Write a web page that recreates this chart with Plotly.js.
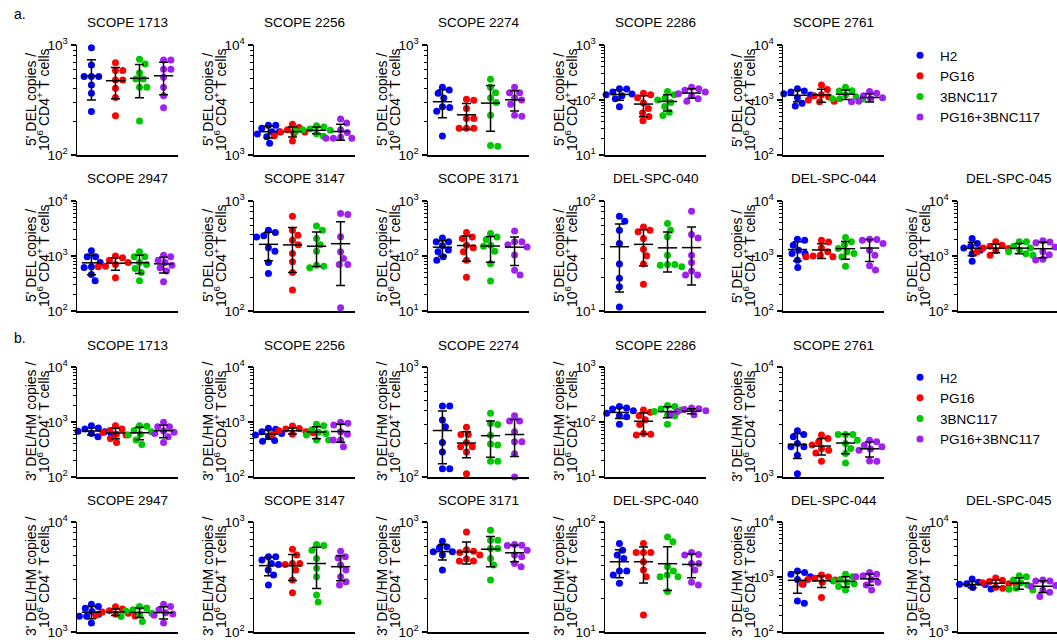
<!DOCTYPE html>
<html><head><meta charset="utf-8">
<script src="https://cdn.plot.ly/plotly-3.0.1.min.js"></script>
<style>html,body{margin:0;padding:0;background:#fff;} #chart{width:1057px;height:642px;}</style>
</head><body><div id="chart"></div>
<script>
const groupNames = ['H2', 'PG16', '3BNC117', 'PG16+3BNC117'];
const groupColors = ['#0000ff', '#ff0000', '#00c800', '#a020f0'];

const titlesRow1 = ['SCOPE 1713', 'SCOPE 2256', 'SCOPE 2274', 'SCOPE 2286', 'SCOPE 2761'];
const titlesRow2 = ['SCOPE 2947', 'SCOPE 3147', 'SCOPE 3171', 'DEL-SPC-040', 'DEL-SPC-044', 'DEL-SPC-045'];

const yTitleA = "5' DEL copies /";
const yTitleB = "3' DEL/HM copies /";
const yTitle2 = '10<sup>6</sup> CD4<sup>+</sup> T cells';

// log10 axis ranges (decade exponents) per panel
const decadesA = [[2,3],[3,4],[2,3],[1,3],[2,4],[2,4],[2,3],[1,3],[1,2],[2,4],[2,4]];
const decadesB = [[2,4],[2,4],[2,3],[1,3],[3,4],[3,4],[2,3],[2,3],[1,2],[2,4],[3,4]];

// ---- a. 5' DEL copies / 10^6 CD4+ T cells ----  (groups: H2, PG16, 3BNC117, PG16+3BNC117)
const a_SCOPE_1713 = [[946,658,516,516,516,433,364,248],[690,585,585,481,481,404,334,228],[741,672,560,491,491,412,412,204],[731,731,601,601,508,412,346,269]];
const a_SCOPE_2256 = [[1862,1862,1750,1630,1630,1550,1468,1276],[1900,1780,1700,1620,1620,1580,1500,1340],[1840,1800,1720,1700,1680,1640,1560,1480],[2120,1950,1700,1600,1450,1420,1420,1420]];
const a_SCOPE_2274 = [[412,390,364,330,275,270,250,149],[321,315,265,215,215,175,175,175],[487,412,369,330,300,230,122,120],[412,369,369,330,316,290,230,225]];
const a_SCOPE_2286 = [[160,158,140,128,125,120,105,75],[132,125,110,88,70,58,50,42],[142,125,107,100,90,76,60,52],[170,160,150,140,130,120,105,95]];
const a_SCOPE_2761 = [[1600,1450,1400,1300,1233,1100,870,780],[1875,1560,1250,1200,1150,1000,950,930],[1700,1480,1450,1250,1150,1050,1050,1040],[1420,1320,1200,1100,1050,950,930,900]];
const a_SCOPE_2947 = [[1240,966,966,760,636,620,462,355],[1000,927,840,760,700,650,636,402],[1190,966,966,760,700,594,502,355],[1035,966,840,760,682,610,531,340]];
const a_SCOPE_3147 = [[542,516,482,470,375,350,276,219],[726,542,489,440,400,334,280,224,155],[593,542,456,400,350,261,255,247],[768,752,472,345,300,265,265,107]];
const a_SCOPE_3171 = [[213,181,181,153,128,120,97,84],[267,222,208,157,141,119,84,41],[256,222,200,157,150,122,72,35],[286,181,181,160,146,104,55,45]];
const a_DEL_SPC_040 = [[72.6,65.4,54.2,41,26.7,19.8,16.6,10.9],[58.1,54.2,52.4,45.6,36.5,31.8,26.7,17.5],[62.3,54.2,47.2,32.2,26.5,26.5,26.0,25.2],[80.5,49.5,46.2,32.2,27.6,23.1,21.2,21.2]];
const a_DEL_SPC_044 = [[2018,1936,1572,1276,1110,1110,840,619],[1936,1800,1400,1200,1035,1000,966,966],[2165,1807,1600,1368,1200,1110,966,654],[2018,1990,1936,1686,1276,1035,663,555]];
const a_DEL_SPC_045 = [[2077,1686,1500,1400,1276,1276,1100,805],[1807,1572,1500,1400,1368,1250,1191,1035],[1807,1807,1500,1400,1276,1200,1100,1035],[1900,1800,1750,1450,1200,1050,870,850]];

// ---- b. 3' DEL/HM copies / 10^6 CD4+ T cells ----
const b_SCOPE_1713 = [[857,780,745,680,666,620,595,540],[857,745,700,647,600,579,502,425],[857,840,700,666,600,579,469,390],[986,822,822,685,650,621,540,425]];
const b_SCOPE_2256 = [[766,740,666,620,579,540,460,449],[845,760,745,690,666,640,600,595],[906,857,720,650,621,580,469,469],[986,946,881,666,600,469,469,354]];
const b_SCOPE_2274 = [[443,443,330,287,206,169,119,119],[283,244,244,206,188,188,169,107],[380,307,300,240,200,195,139,139],[361,323,323,258,209,209,163,100]];
const b_SCOPE_2286 = [[191,180,173,160,144,130,125,91],[166,150,130,110,90,62,60,58],[199,191,173,165,155,134,130,91],[180,175,168,160,155,145,140,135]];
const b_SCOPE_2761 = [[2636,2438,2323,2018,1880,1880,1578,1072],[2405,2243,2089,1950,1816,1754,1650,1390],[2438,2438,2438,2163,2018,1816,1634,1343],[2163,2089,1948,1880,1800,1754,1400,1390]];
const b_SCOPE_2947 = [[1791,1706,1648,1538,1450,1387,1387,1206],[1700,1620,1560,1520,1480,1450,1420,1400],[1706,1650,1592,1550,1480,1436,1380,1248],[1791,1706,1592,1500,1456,1420,1339,1206]];
const b_SCOPE_3147 = [[483,483,451,420,410,366,330,268],[566,500,420,420,410,366,297,228],[624,610,554,466,379,318,217,187],[543,483,470,406,366,318,287,268]];
const b_SCOPE_3171 = [[669,594,582,536,536,520,500,366],[812,560,543,528,500,460,441,441],[841,682,682,574,574,466,406,297],[624,615,610,554,500,483,420,392]];
const b_DEL_SPC_040 = [[63.7,55.5,50,46.6,35.8,35.8,33,27.7],[63.7,52.8,52.8,52.8,43.5,36.6,31.8,14.3],[73.2,66,39.2,35.8,33,31.8,31.8,23.3],[52.8,50.7,50,42,42,36.6,28.3,26.8]];
const b_DEL_SPC_044 = [[1283,1213,1117,1014,900,737,368,334],[1087,1000,946,900,883,802,750,424],[1117,1014,900,850,802,750,669,582],[1213,1117,1050,1014,900,802,717,582]];
const b_DEL_SPC_045 = [[3034,2831,2750,2716,2700,2600,2535,2466],[3100,2950,2880,2800,2750,2700,2550,2500],[3251,3184,2972,2800,2679,2500,2450,2413],[2972,2911,2911,2650,2588,2413,2298,2101]];

const dataA = [a_SCOPE_1713,a_SCOPE_2256,a_SCOPE_2274,a_SCOPE_2286,a_SCOPE_2761,a_SCOPE_2947,a_SCOPE_3147,a_SCOPE_3171,a_DEL_SPC_040,a_DEL_SPC_044,a_DEL_SPC_045];
const dataB = [b_SCOPE_1713,b_SCOPE_2256,b_SCOPE_2274,b_SCOPE_2286,b_SCOPE_2761,b_SCOPE_2947,b_SCOPE_3147,b_SCOPE_3171,b_DEL_SPC_040,b_DEL_SPC_044,b_DEL_SPC_045];

// ---------- layout geometry (px) ----------
const W = 1057, H = 642;
const colX = [77, 254, 428, 605, 783, 958];
const panelW = 101, panelH = 110;
const rowTop = [45, 201, 367, 522];
const xRange = [-0.6, 3.6];
const FONT = 'Arial, "Liberation Sans", Helvetica, sans-serif';
const dotSize = 7;

function mean(a){ return a.reduce((s,v)=>s+v,0)/a.length; }
function sd(a){ const m = mean(a); return Math.sqrt(a.reduce((s,v)=>s+(v-m)*(v-m),0)/(a.length-1)); }

// deterministic beeswarm (pixel space) -> offsets in x data units
function swarm(vals, pxPerDec, pxPerUnit, d){
  const idx = vals.map((v,i)=>i).sort((a,b)=>vals[b]-vals[a]);
  const placed = []; const off = new Array(vals.length).fill(0);
  for (const i of idx){
    const y = Math.log10(vals[i])*pxPerDec;
    const cands = [0];
    for (const p of placed){
      const dy = Math.abs(p.y-y);
      if (dy < d){ const dx = Math.sqrt(d*d-dy*dy); cands.push(p.x+dx, p.x-dx); }
    }
    cands.sort((a,b)=>Math.abs(a)-Math.abs(b) || b-a);
    let chosen = 0;
    for (const c of cands){
      if (placed.every(p => (p.x-c)*(p.x-c)+(p.y-y)*(p.y-y) >= d*d-1e-6)){ chosen = c; break; }
    }
    placed.push({x:chosen,y:y}); off[i] = chosen/pxPerUnit;
  }
  return off;
}

const traces = [];
const legendFont = {size:13.5, family:FONT, color:'#000'};
const layout = {
  width: W, height: H, margin:{l:0,r:0,t:0,b:0}, paper_bgcolor:'#fff', plot_bgcolor:'rgba(0,0,0,0)',
  font:{family:FONT, color:'#000'}, showlegend:true, annotations:[],
  legend:{x:900/W, xanchor:'left', y:1-40/H, yanchor:'top', font:legendFont, bgcolor:'rgba(0,0,0,0)', itemclick:false, itemdoubleclick:false, tracegroupgap:0},
  legend2:{x:900/W, xanchor:'left', y:1-362/H, yanchor:'top', font:legendFont, bgcolor:'rgba(0,0,0,0)', itemclick:false, itemdoubleclick:false, tracegroupgap:0}
};

const panels = [];
[['a',dataA,decadesA,0],['b',dataB,decadesB,2]].forEach(([sec,data,decs,r0])=>{
  for (let k=0;k<11;k++){
    const row = r0 + (k<5?0:1), col = k<5?k:k-5;
    const title = k<5 ? titlesRow1[k] : titlesRow2[k-5];
    panels.push({sec, row, col, title, dec:decs[k], data:data[k]});
  }
});

panels.forEach((p, i) => {
  const n = i+1;
  const xa = 'xaxis'+(n===1?'':n), ya = 'yaxis'+(n===1?'':n);
  const xr = 'x'+(n===1?'':n), yr = 'y'+(n===1?'':n);
  const x0 = colX[p.col], top = rowTop[p.row];
  const pxPerUnit = panelW/(xRange[1]-xRange[0]);
  const pxPerDec = panelH/(p.dec[1]-p.dec[0]);
  const majors = [], labels = [], minors = [];
  for (let e=p.dec[0]; e<=p.dec[1]; e++){
    majors.push(Math.pow(10,e)); labels.push('10<sup>'+e+'</sup>');
    if (e<p.dec[1]) for (let m=2;m<=9;m++) minors.push(m*Math.pow(10,e));
  }
  layout[xa] = {domain:[x0/W, Math.min(1,(x0+panelW)/W)], range:xRange, anchor:yr,
    showline:true, linecolor:'#000', linewidth:1.5, ticks:'', showticklabels:false,
    showgrid:false, zeroline:false, fixedrange:true};
  layout[ya] = {domain:[1-(top+panelH)/H, 1-top/H], type:'log', range:[p.dec[0], p.dec[1]], anchor:xr,
    showline:true, linecolor:'#000', linewidth:1.5, ticks:'outside', ticklen:5, tickwidth:1.5, tickcolor:'#000',
    tickmode:'array', tickvals:majors, ticktext:labels, tickfont:{size:13.5, family:FONT, color:'#000'},
    minor:{tickmode:'array', tickvals:minors, ticks:'outside', ticklen:2.5, tickwidth:1, tickcolor:'#000', showgrid:false},
    showgrid:false, zeroline:false, fixedrange:true};

  p.data.forEach((vals, g) => {
    const off = swarm(vals, pxPerDec, pxPerUnit, dotSize+0.3);
    const t = {type:'scatter', mode:'markers', x: vals.map((v,j)=>g+off[j]), y: vals,
      xaxis:xr, yaxis:yr, name:groupNames[g], cliponaxis:false, hoverinfo:'y',
      marker:{color:groupColors[g], size:dotSize, line:{width:0}}, showlegend:false};
    if (i===0){ t.showlegend = true; t.legend = 'legend'; }
    if (i===11){ t.showlegend = true; t.legend = 'legend2'; }
    traces.push(t);
  });
  const means = p.data.map(mean), sds = p.data.map(sd);
  traces.push({type:'scatter', mode:'markers', x:[0,1,2,3], y:means, xaxis:xr, yaxis:yr,
    marker:{size:1, color:'rgba(0,0,0,0)'}, showlegend:false, hoverinfo:'y', cliponaxis:false,
    error_y:{type:'data', array:sds, symmetric:true, color:'#000', thickness:1.5, width:4.5},
    error_x:{type:'data', array:[0.4,0.4,0.4,0.4], symmetric:true, color:'#000', thickness:1.5, width:0}});

  // panel title
  layout.annotations.push({xref:'paper', yref:'paper', x:(x0+panelW/2)/W, y:1-(top-22)/H, xanchor:'center', yanchor:'middle',
    text:p.title, showarrow:false, font:{size:13.5, family:FONT, color:'#000'}});
  // y titles (two lines)
  const yc = 1-(top+panelH/2)/H;
  layout.annotations.push({xref:'paper', yref:'paper', x:(x0-46)/W, y:yc, xanchor:'center', yanchor:'middle', textangle:-90,
    text:(p.sec==='a'?yTitleA:yTitleB), showarrow:false, font:{size:14, family:FONT, color:'#000'}});
  layout.annotations.push({xref:'paper', yref:'paper', x:(x0-34)/W, y:yc, xanchor:'center', yanchor:'middle', textangle:-90,
    text:yTitle2, showarrow:false, font:{size:14, family:FONT, color:'#000'}});
});

layout.annotations.push({xref:'paper', yref:'paper', x:12/W, y:1-14/H, xanchor:'left', yanchor:'middle', text:'a.', showarrow:false, font:{size:14, family:FONT, color:'#000'}});
layout.annotations.push({xref:'paper', yref:'paper', x:12/W, y:1-338/H, xanchor:'left', yanchor:'middle', text:'b.', showarrow:false, font:{size:14, family:FONT, color:'#000'}});

Plotly.newPlot('chart', traces, layout, {displayModeBar:false, staticPlot:true});
</script>
</body></html>
